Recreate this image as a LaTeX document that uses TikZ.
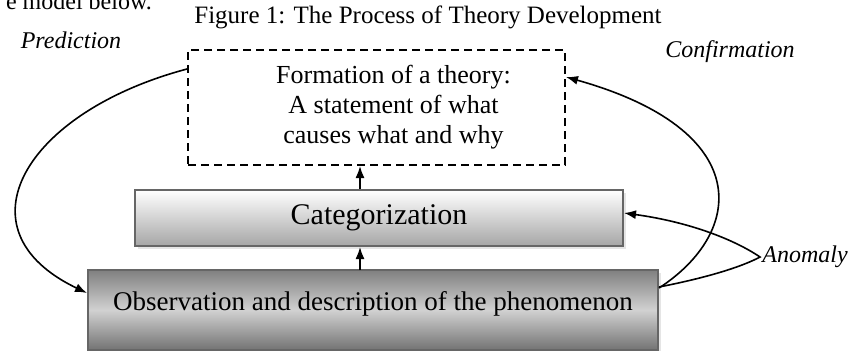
\documentclass[tikz,border=0pt]{standalone}
\usepackage{fontspec}
\setmainfont{Liberation Serif}
\usetikzlibrary{calc,arrows.meta,shadows}

\begin{document}
\begin{tikzpicture}[x=0.5pt,y=-0.5pt,
  arr/.style={-{Latex[length=6pt,width=4.5pt]},line width=0.8pt},
  lbl/.style={font=\itshape\fontsize{12}{14}\selectfont},
  box/.style={draw=black!60,line width=1pt,drop shadow={shadow xshift=1.5pt,shadow yshift=-1.5pt,fill=black!20}}]
\useasboundingbox (0,0) rectangle (854,350);
\node[anchor=base west,font=\fontsize{12}{14}\selectfont] (prev) at (-1,9) {e model below.};
\node[font=\fontsize{12.5}{14}\selectfont] (cap) at (428,17) {Figure 1: The Process of Theory Development};
\node[draw,dash pattern=on 4pt off 2.5pt,line width=1pt,minimum width=188.5pt,minimum height=57.5pt,
  font=\fontsize{13}{15}\selectfont] (formation) at (376.5,107.5)
  {\hspace*{17pt}\begin{tabular}{@{}c@{}}Formation of a theory:\\ A statement of what\\ causes what and why\end{tabular}};
\node[box,top color=white,bottom color=black!35,minimum width=244pt,minimum height=28pt,
  font=\fontsize{15}{17}\selectfont] (categ) at (379,218) {Categorization};
\node[box,shading angle=-40,top color=black!50,bottom color=black!55,middle color=black!18,
  minimum width=285pt,minimum height=40pt,text depth=9pt,font=\fontsize{13.5}{16}\selectfont]
  (observ) at (373,310) {Observation and description of the phenomenon};
\node[lbl,anchor=center] (pred) at (71,40) {Prediction};
\node[lbl,anchor=center] (conf) at (730,52) {Confirmation};
\node[lbl,anchor=west,inner sep=1pt] (anom) at (760,257) {Anomaly};
\draw[arr] (360,270) -- (categ.south -| 360,0);
\draw[arr] (categ.north -| 360,0) -- (formation.south -| 360,0);
\draw[arr] ($(formation.north west)+(0,20)$) .. controls (25,112) and (-45,230) .. (observ.west |- 0,293);
\draw[arr] ($(observ.north east)+(0,19)$) .. controls (745,232) and (755,130) .. ($(formation.north east)+(0,28)$);
\draw[arr] ($(observ.north east)+(0,18)$) .. controls (715,276) and (745,265) .. (anom.west)
  .. controls (735,240) and (690,222) .. ($(categ.east)+(0,-5)$);
\end{tikzpicture}
\end{document}
